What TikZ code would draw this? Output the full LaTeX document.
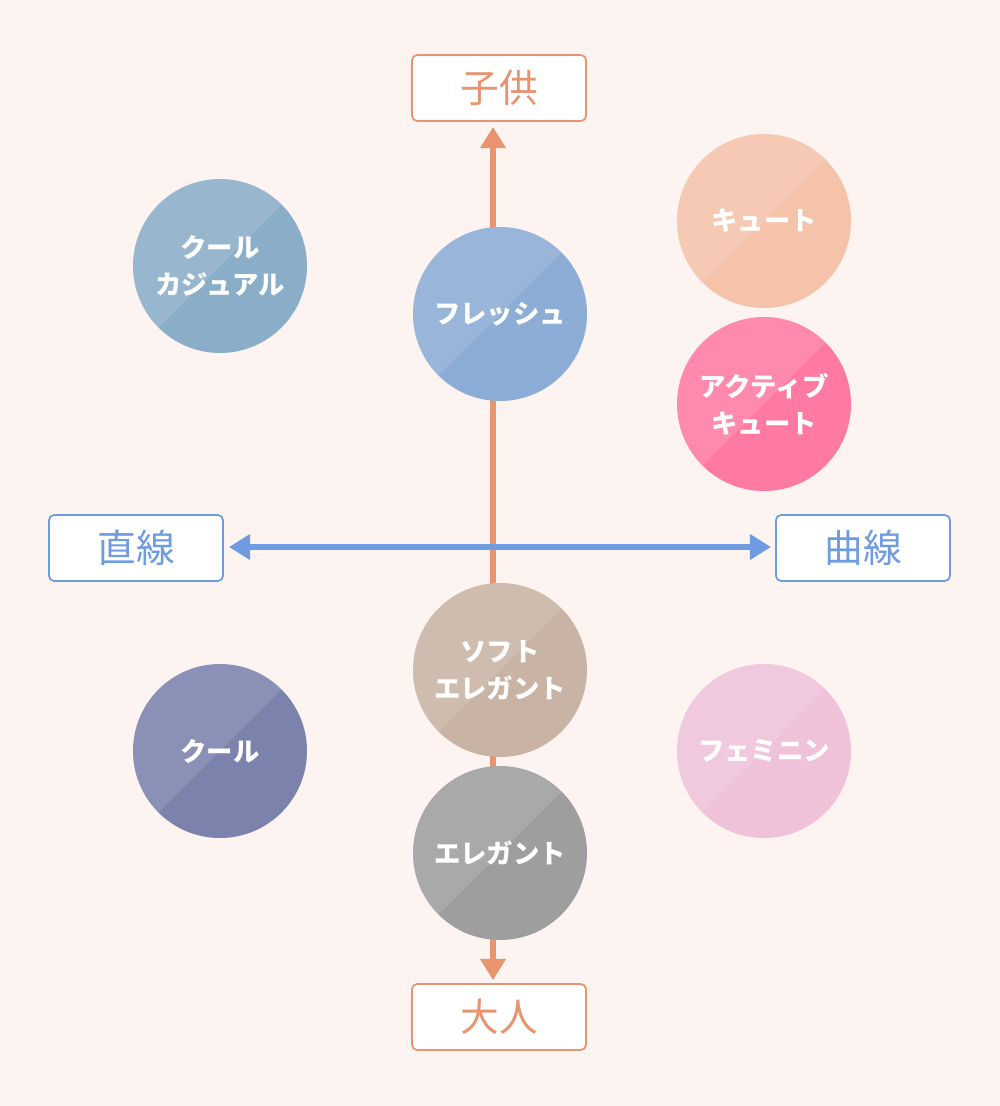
\documentclass[tikz,border=0pt]{standalone}
\usepackage{fontspec}
\setmainfont{Noto Sans CJK JP}
\usetikzlibrary{arrows.meta}
\definecolor{bgc}{HTML}{FDF3F0}
\definecolor{org}{HTML}{E8946F}
\definecolor{blu}{HTML}{6F9BE0}
\tikzset{
  lbl/.style={draw=#1,fill=white,text=#1,rounded corners=1.5pt,minimum width=1.74cm,minimum height=0.66cm,inner sep=0,font=\fontsize{11pt}{12pt}\selectfont,line width=0.5pt},
  bub/.style={circle,minimum size=1.74cm,inner sep=0,text=white,align=center,font=\fontsize{7.5pt}{10.5pt}\selectfont\bfseries},
  tip/.style={-{Triangle[length=6pt,width=7pt]}},
}
\begin{document}
\begin{tikzpicture}[x=0.01cm,y=-0.01cm]
\fill[bgc] (0,0) rectangle (1000,1106);
\useasboundingbox (0,0) rectangle (1000,1106);
\node[lbl=org] (top) at (499,88) {子供};
\node[lbl=org] (bot) at (499,1017) {大人};
\node[lbl=blu] (lft) at (136,548) {直線};
\node[lbl=blu] (rgt) at (863,548) {曲線};
\coordinate (c0) at (493,547);
\coordinate (t1) at (493,127); \coordinate (t2) at (493,980);
\coordinate (h1) at (229,547); \coordinate (h2) at (771,547);
\draw[org,line width=1.7pt,tip] (c0) -- (t1);
\draw[org,line width=1.7pt,tip] (c0) -- (t2);
\draw[blu,line width=1.7pt,{Triangle[length=6pt,width=7pt]}-{Triangle[length=6pt,width=7pt]}] (h1) -- (h2);
\foreach \n/\x/\y/\c/\t in {
 a/220/266/8AAEC8/{クール\\カジュアル},
 b/500/314/8CADD5/{フレッシュ},
 c/764/221/F5C2AA/{キュート},
 d/764/404/FF7AA2/{アクティブ\\キュート},
 e/500/670/C8B3A4/{ソフト\\エレガント},
 f/220/751/7B82AC/{クール},
 g/764/751/F0C2DA/{フェミニン},
 h/500/853/9E9E9E/{エレガント}}{
 \definecolor{cc}{HTML}{\c}
 \fill[cc] (\x,\y) circle (87);
 \begin{scope}
 \clip (\x,\y) circle (87);
 \fill[white,opacity=0.12] (\x-100,\y+100) -- (\x+100,\y-100) -- (\x-100,\y-100) -- cycle;
 \end{scope}
 \node[bub] (\n) at (\x,\y) {\t};
}
\end{tikzpicture}
\end{document}
